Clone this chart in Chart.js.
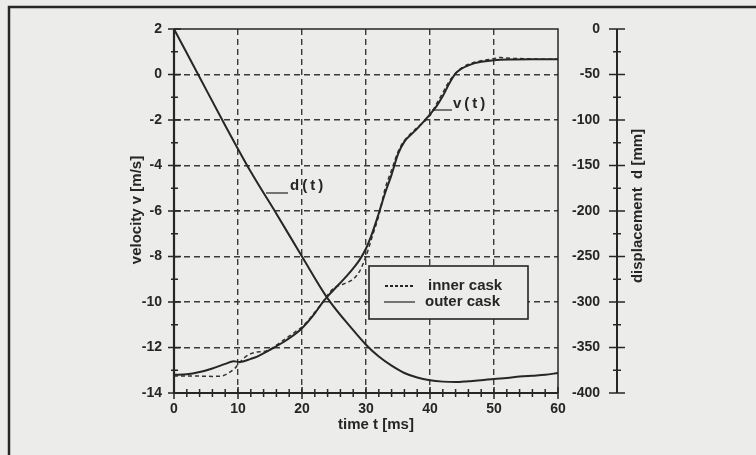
<!DOCTYPE html>
<html>
<head>
<meta charset="utf-8">
<script src="https://cdn.jsdelivr.net/npm/chart.js@4"></script>
<style>
  html, body { margin: 0; padding: 0; background: #ececea; }
  canvas { display: block; }
</style>
</head>
<body>
<canvas id="c" width="756" height="455"></canvas>
<script>
// velocity of outer cask (solid)
const tOuter = [0, 2, 4, 6, 8, 9.3, 10.3, 12, 13, 15, 17.6, 20, 22, 23, 24, 25, 27, 28, 29, 30, 31, 32, 33, 34, 35, 36, 37, 38, 39, 40, 41, 42, 43, 44, 45, 46, 47, 48, 50, 53, 56, 60];
const vOuter = [-13.2, -13.18, -13.08, -12.92, -12.72, -12.6, -12.64, -12.5, -12.4, -12.1, -11.67, -11.15, -10.5, -10.1, -9.75, -9.45, -8.85, -8.52, -8.15, -7.65, -6.95, -6.1, -5.2, -4.4, -3.5, -2.95, -2.65, -2.38, -2.07, -1.75, -1.4, -0.95, -0.4, 0.05, 0.27, 0.4, 0.5, 0.56, 0.63, 0.66, 0.67, 0.67];

// velocity of inner cask (dashed)
const tInner = [0, 3, 6, 7.5, 8.5, 9.5, 10, 11, 12, 13, 14, 15, 16, 17, 18, 19, 20, 21, 22, 23, 24, 25, 26, 27, 28, 29, 29.5, 30, 31, 32, 33, 34, 35, 36, 37, 38, 39, 40, 41, 42, 43, 44, 45, 46, 48, 50, 51, 52, 54, 56, 60];
const vInner = [-13.25, -13.25, -13.27, -13.25, -13.12, -12.92, -12.75, -12.45, -12.27, -12.2, -12.18, -12.08, -11.9, -11.7, -11.5, -11.3, -11.1, -10.8, -10.45, -10.1, -9.7, -9.38, -9.26, -9.15, -9.0, -8.65, -8.35, -8.0, -7.1, -6.2, -5.0, -4.2, -3.4, -2.9, -2.6, -2.33, -2.1, -1.8, -1.3, -0.8, -0.3, 0.05, 0.3, 0.45, 0.6, 0.7, 0.75, 0.72, 0.7, 0.68, 0.67];

// displacement d(t) in mm (right axis)
const tDisp = [0, 4, 8, 12, 16, 20, 24, 28, 30, 32, 34, 36, 38, 40, 42, 44, 46, 48, 50, 52, 54, 56, 58, 60];
const dDisp = [0, -53, -106, -157, -203, -250, -296, -331, -347, -360, -370, -378, -383, -386, -387.5, -388, -387, -386, -384.5, -383.5, -382, -381, -380, -378];

const xTicks = [0, 10, 20, 30, 40, 50, 60];
const vTicks = [2, 0, -2, -4, -6, -8, -10, -12, -14];
const dTicks = [0, -50, -100, -150, -200, -250, -300, -350, -400];

const INK = '#262626';
const BG = '#ececea';
const tickFont = { family: 'Arial, "Liberation Sans", sans-serif', size: 14, weight: 'bold' };

const toXY = (xs, ys) => xs.map((x, i) => ({ x, y: ys[i] }));

const hideEdge = (lo, hi) => c => (c.tick && (c.tick.value === lo || c.tick.value === hi)) ? 'rgba(0,0,0,0)' : '#3a3a3a';

const deco = {
    id: 'deco',
    afterDraw(chart) {
        const { ctx, chartArea: a, scales } = chart;
        const xs = scales.x, ys = scales.y, ds = scales.y2;
        ctx.save();
        ctx.strokeStyle = INK;
        ctx.fillStyle = INK;

        // outer figure frame
        ctx.lineWidth = 2.5;
        ctx.beginPath();
        ctx.moveTo(9, 455); ctx.lineTo(9, 7); ctx.lineTo(756, 7);
        ctx.stroke();

        // plot frame
        ctx.lineWidth = 1.5;
        ctx.beginPath();
        ctx.moveTo(a.left, a.top); ctx.lineTo(a.right, a.top); ctx.lineTo(a.right, a.bottom);
        ctx.stroke();
        ctx.lineWidth = 2.2;
        ctx.beginPath();
        ctx.moveTo(a.left, a.top); ctx.lineTo(a.left, a.bottom); ctx.lineTo(a.right, a.bottom);
        ctx.stroke();

        // x ticks, every 2 ms
        ctx.lineWidth = 1.5;
        for (let t = 0; t <= 60; t += 2) {
            const px = xs.getPixelForValue(t);
            const big = t % 10 === 0;
            ctx.beginPath();
            ctx.moveTo(px, a.bottom - (big ? 6 : 4));
            ctx.lineTo(px, a.bottom + (big ? 6 : 4));
            ctx.stroke();
        }
        // left ticks, every 1 m/s
        for (let v = -14; v <= 2; v += 1) {
            const py = ys.getPixelForValue(v);
            const big = v % 2 === 0;
            ctx.beginPath();
            ctx.moveTo(a.left - (big ? 6 : 3), py);
            ctx.lineTo(a.left + (big ? 7 : 4), py);
            ctx.stroke();
        }
        // detached right axis
        const rx = 617;
        ctx.lineWidth = 2;
        ctx.beginPath();
        ctx.moveTo(rx, ds.getPixelForValue(0));
        ctx.lineTo(rx, ds.getPixelForValue(-400));
        ctx.stroke();
        ctx.lineWidth = 1.5;
        for (let d = -400; d <= 0; d += 25) {
            const py = ds.getPixelForValue(d);
            const big = d % 50 === 0;
            ctx.beginPath();
            ctx.moveTo(rx - (big ? 8 : 4), py);
            ctx.lineTo(rx + (big ? 8 : 4), py);
            ctx.stroke();
        }

        // axis titles
        ctx.font = 'bold 15px Arial, "Liberation Sans", sans-serif';
        ctx.textAlign = 'center';
        ctx.textBaseline = 'middle';
        ctx.fillText('time t [ms]', 376, 425);
        ctx.save();
        ctx.translate(137, 210); ctx.rotate(-Math.PI / 2);
        ctx.fillText('velocity v [m/s]', 0, 0);
        ctx.restore();
        ctx.save();
        ctx.translate(638, 206); ctx.rotate(-Math.PI / 2);
        ctx.fillText('displacement  d [mm]', 0, 0);
        ctx.restore();

        // curve labels
        ctx.letterSpacing = '3px';
        ctx.textAlign = 'left';
        ctx.lineWidth = 1.2;
        ctx.beginPath(); ctx.moveTo(266, 193); ctx.lineTo(288, 193); ctx.stroke();
        ctx.fillText('d(t)', 290, 186);
        ctx.beginPath(); ctx.moveTo(432, 110); ctx.lineTo(452, 110); ctx.stroke();
        ctx.fillText('v(t)', 453, 104);
        ctx.letterSpacing = '0px';

        // legend box
        ctx.fillStyle = BG;
        ctx.fillRect(369, 266, 159, 53);
        ctx.lineWidth = 1.6;
        ctx.strokeRect(369, 266, 159, 53);
        ctx.fillStyle = INK;
        ctx.lineWidth = 1.8;
        ctx.setLineDash([3, 2]);
        ctx.beginPath(); ctx.moveTo(385, 286); ctx.lineTo(415, 286); ctx.stroke();
        ctx.setLineDash([]);
        ctx.lineWidth = 1.2;
        ctx.beginPath(); ctx.moveTo(384, 302); ctx.lineTo(415, 302); ctx.stroke();
        ctx.font = 'bold 15px Arial, "Liberation Sans", sans-serif';
        ctx.fillText('inner cask', 428, 286);
        ctx.fillText('outer cask', 425, 302);
        ctx.restore();
    }
};

new Chart(document.getElementById('c'), {
    type: 'line',
    data: {
        datasets: [
            {
                label: 'outer cask',
                data: toXY(tOuter, vOuter),
                yAxisID: 'y',
                borderColor: INK,
                borderWidth: 2,
                pointRadius: 0,
                cubicInterpolationMode: 'monotone'
            },
            {
                label: 'inner cask',
                data: toXY(tInner, vInner),
                yAxisID: 'y',
                borderColor: '#333',
                borderWidth: 1.5,
                borderDash: [4, 3],
                pointRadius: 0,
                cubicInterpolationMode: 'monotone'
            },
            {
                label: 'd(t)',
                data: toXY(tDisp, dDisp),
                yAxisID: 'y2',
                borderColor: INK,
                borderWidth: 2,
                pointRadius: 0,
                cubicInterpolationMode: 'monotone'
            }
        ]
    },
    options: {
        responsive: false,
        animation: false,
        layout: { padding: { left: 0, top: 29, right: 156, bottom: 0 } },
        plugins: { legend: { display: false }, tooltip: { enabled: false } },
        scales: {
            x: {
                type: 'linear', min: 0, max: 60,
                afterBuildTicks: s => { s.ticks = xTicks.map(value => ({ value })); },
                afterFit: s => { s.height = 62; },
                ticks: { color: INK, font: tickFont, padding: 8, maxRotation: 0 },
                grid: { color: hideEdge(0, 60), lineWidth: 1.4, drawTicks: false },
                border: { display: false, dash: [6, 4] }
            },
            y: {
                type: 'linear', position: 'left', min: -14, max: 2,
                afterBuildTicks: s => { s.ticks = vTicks.map(value => ({ value })); },
                afterFit: s => { s.width = 174; },
                ticks: { color: INK, font: tickFont, padding: 12 },
                grid: { color: hideEdge(-14, 2), lineWidth: 1.4, drawTicks: false },
                border: { display: false, dash: [6, 4] }
            },
            y2: {
                type: 'linear', position: 'right', min: -400, max: 0,
                afterBuildTicks: s => { s.ticks = dTicks.map(value => ({ value })); },
                afterFit: s => { s.width = 42; },
                ticks: { color: INK, font: tickFont, padding: 0, crossAlign: 'far' },
                grid: { display: false, drawTicks: false },
                border: { display: false }
            }
        }
    },
    plugins: [deco]
});
</script>
</body>
</html>
